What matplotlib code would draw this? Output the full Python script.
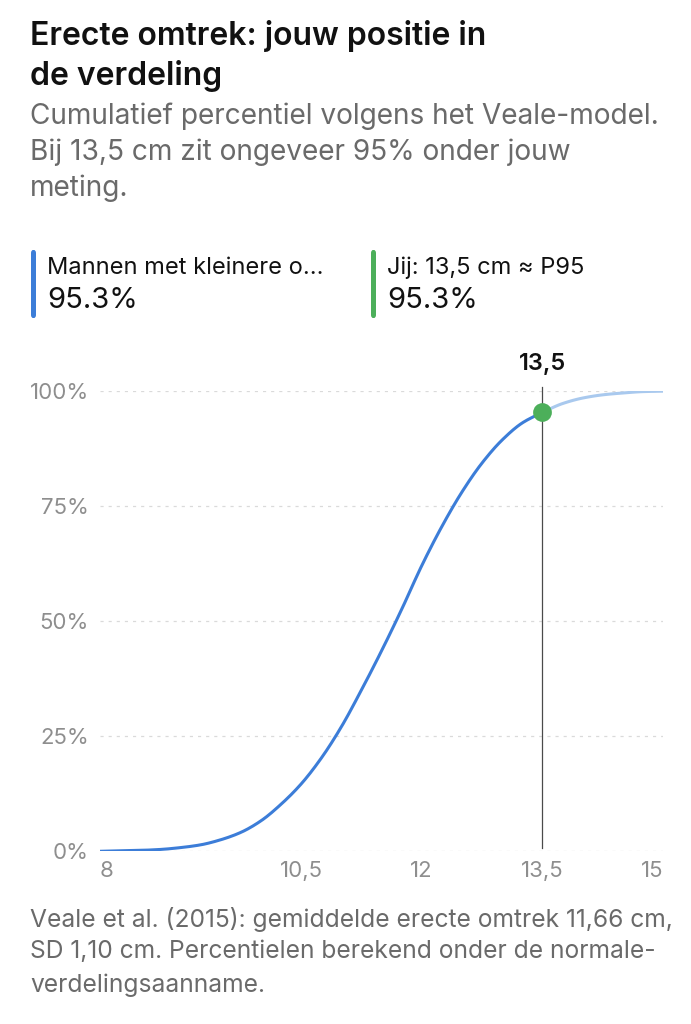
import matplotlib
matplotlib.use('Agg')
import matplotlib.pyplot as plt
import numpy as np

plt.rcParams['font.family'] = ['Inter', 'DejaVu Sans']

# cumulative percentile curve (cm -> % below)
lengths = [8.0, 8.25, 8.5, 8.75, 9.0, 9.25, 9.5, 9.75, 10.0, 10.25, 10.5, 10.75,
           11.0, 11.25, 11.5, 11.75, 12.0, 12.25, 12.5, 12.75, 13.0, 13.25, 13.5,
           13.75, 14.0, 14.25, 14.5, 14.75, 15.0]
percent_below = [0.0, 0.1, 0.2, 0.4, 0.8, 1.4, 2.5, 4.1, 6.6, 10.2, 14.6, 20.2,
                 27.0, 35.0, 43.5, 52.5, 62.0, 70.5, 78.0, 84.3, 89.3, 93.0, 95.3,
                 97.2, 98.4, 99.1, 99.5, 99.8, 99.9]
user_length = 13.5
user_pct = 95.3
xticks = [8, 10.5, 12, 13.5, 15]
xtick_labels = ['8', '10,5', '12', '13,5', '15']
yticks = [0, 25, 50, 75, 100]
ytick_labels = ['0%', '25%', '50%', '75%', '100%']

BLUE = '#3C7DD8'
LIGHT_BLUE = '#A9C9EE'
GREEN = '#4CAF5A'
GREY = '#8E8E8E'
SUB = '#6A6A6A'

W, H = 691, 1024
fig = plt.figure(figsize=(W / 100, H / 100), dpi=100)
fig.patch.set_facecolor('white')


def fy(py):
    return 1 - py / H


def fx(px):
    return px / W


def smooth(xs, ys, n=20):
    # monotone cubic (Fritsch-Carlson) path through the points, for drawing only
    xs = np.asarray(xs, float)
    ys = np.asarray(ys, float)
    h = np.diff(xs)
    d = np.diff(ys) / h
    m = np.zeros_like(ys)
    m[0], m[-1] = d[0], d[-1]
    for i in range(1, len(xs) - 1):
        if d[i - 1] * d[i] > 0:
            m[i] = 2 / (1 / d[i - 1] + 1 / d[i])
    px, py = [], []
    for i in range(len(xs) - 1):
        t = np.linspace(0, 1, n, endpoint=False)
        h00 = 2 * t**3 - 3 * t**2 + 1
        h10 = t**3 - 2 * t**2 + t
        h01 = -2 * t**3 + 3 * t**2
        h11 = t**3 - t**2
        px.append(xs[i] + t * h[i])
        py.append(h00 * ys[i] + h10 * h[i] * m[i] + h01 * ys[i + 1] + h11 * h[i] * m[i + 1])
    px.append([xs[-1]])
    py.append([ys[-1]])
    return np.concatenate(px), np.concatenate(py)


# header
fig.text(fx(30), fy(36), 'Erecte omtrek: jouw positie in', fontsize=23,
         fontweight='semibold', color='#111111', va='center')
fig.text(fx(30), fy(76), 'de verdeling', fontsize=23,
         fontweight='semibold', color='#111111', va='center')
subtitle = ['Cumulatief percentiel volgens het Veale-model.',
            'Bij 13,5 cm zit ongeveer 95% onder jouw',
            'meting.']
for i, line in enumerate(subtitle):
    fig.text(fx(30), fy(116 + i * 36), line, fontsize=20.2, color=SUB, va='center')

# legend blocks
legend = [(31, BLUE, 'Mannen met kleinere o...', '95.3%'),
          (371, GREEN, 'Jij: 13,5 cm \u2248 P95', '95.3%')]
for px, col, label, val in legend:
    fig.patches.append(matplotlib.patches.FancyBboxPatch(
        (fx(px), fy(318)), fx(5), (318 - 250) / H,
        boxstyle='round,pad=0,rounding_size=0.003', transform=fig.transFigure,
        facecolor=col, edgecolor='none'))
    fig.text(fx(px + 16), fy(268), label, fontsize=17, color='#111111', va='center')
    fig.text(fx(px + 16), fy(300), val, fontsize=21, color='#111111', va='center')

# chart
ax = fig.add_axes([fx(100), fy(851.3), fx(563), (851.3 - 390.7) / H])
ax.set_xlim(8, 15)
ax.set_ylim(0, 100)
for s in ax.spines.values():
    s.set_visible(False)

for y in yticks:
    ax.axhline(y, color='#DADADA', lw=0.9, ls=(0, (2.5, 4)), zorder=0)

x = np.array(lengths)
y = np.array(percent_below)
before = x <= user_length
after = x >= user_length
sx, sy = smooth(x[after], y[after])
ax.plot(sx, sy, color=LIGHT_BLUE, lw=2.2, solid_capstyle='round', zorder=2)
sx, sy = smooth(x[before], y[before])
ax.plot(sx, sy, color=BLUE, lw=2.2, solid_capstyle='round', zorder=3)

ax.plot([user_length, user_length], [0.7, 100.7], color='#4A4A4A', lw=0.9,
        clip_on=False, zorder=1)
ax.plot([user_length], [user_pct], 'o', color=GREEN, ms=13.5, mec='none',
        clip_on=False, zorder=4)
ax.text(user_length, 105.8, '13,5', ha='center', va='center', fontsize=17,
        fontweight='semibold', color='#111111', clip_on=False)

ax.set_xticks(xticks, xtick_labels)
ax.set_yticks(yticks, ytick_labels)
ax.tick_params(length=0, labelsize=16, labelcolor=GREY)
ax.tick_params(axis='x', pad=7)
ax.tick_params(axis='y', pad=8)
xl = ax.get_xticklabels()
xl[0].set_ha('left')
xl[-1].set_ha('right')

# footnote
foot = ['Veale et al. (2015): gemiddelde erecte omtrek 11,66 cm,',
        'SD 1,10 cm. Percentielen berekend onder de normale-',
        'verdelingsaanname.']
for i, line in enumerate(foot):
    fig.text(fx(30), fy(919 + i * 33), line, fontsize=17.7, color=SUB, va='center')

fig.savefig('out.png', dpi=100, facecolor='white')
